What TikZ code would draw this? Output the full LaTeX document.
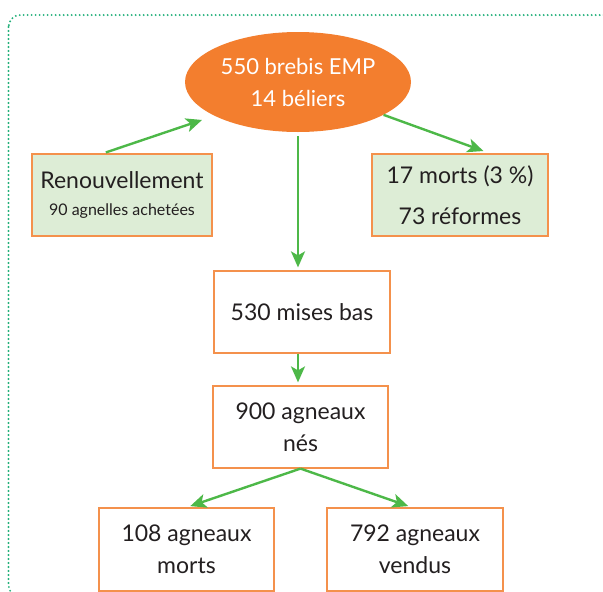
\documentclass[tikz,border=0pt]{standalone}
\usepackage{fontspec}
\setmainfont{Lato}
\usetikzlibrary{shapes.geometric,arrows.meta}
\definecolor{orgfill}{HTML}{F37E2E}
\definecolor{orgline}{HTML}{F4914C}
\definecolor{grarrow}{HTML}{4DB848}
\definecolor{grfill}{HTML}{DDEDD6}
\definecolor{frame}{HTML}{22B07A}
\definecolor{txt}{HTML}{231F20}
\tikzset{
  box/.style={draw=orgline, line width=1.2pt, inner sep=0pt, align=center,
    text=txt, font=\fontsize{23}{32}\selectfont},
  greenbox/.style={box, fill=grfill},
  arr/.style={draw=grarrow, line width=2.4pt,
    -{Stealth[length=16pt,width=14pt,inset=4pt]}},
}
\begin{document}
\begin{tikzpicture}[x=1pt,y=-1pt]
\useasboundingbox (0,0) rectangle (603,592);
\begin{scope}
\clip (0,0) rectangle (603,592);
\draw[frame, line width=2.1pt, dash pattern=on 0pt off 4pt, line cap=round, rounded corners=12pt]
  (8.5,15) rectangle (640,597);
\end{scope}

\node[ellipse, fill=orgfill, minimum width=226pt, minimum height=100pt, inner sep=0pt,
  text=white, align=center, font=\fontsize{22}{32}\selectfont] (top) at (298,82)
  {550 brebis EMP\\14 béliers};

\node[greenbox, minimum width=180pt, minimum height=82pt] (renouv) at (122,195)
  {Renouvellement\\[-5pt]{\fontsize{16}{20}\selectfont 90 agnelles achetées}};
\node[greenbox, minimum width=176pt, minimum height=82pt] (morts) at (460,195)
  {17 morts (3~\%)\\[9pt]73 réformes};
\node[box, minimum width=176pt, minimum height=82pt] (mises) at (302,312)
  {530 mises bas};
\node[box, minimum width=175pt, minimum height=82pt] (nes) at (300.5,427)
  {900 agneaux\\nés};
\node[box, minimum width=175pt, minimum height=83pt] (mortsb) at (186.5,549.5)
  {108 agneaux\\morts};
\node[box, minimum width=176pt, minimum height=83pt] (vendus) at (415,549.5)
  {792 agneaux\\vendus};

\draw[arr, shorten <=3pt, shorten >=13pt] ([xshift=-19pt]renouv.north) -- (top.202.5);
\draw[arr, shorten >=7pt] (top.-21) -- ([xshift=30pt]morts.north);
\draw[arr, shorten <=4pt, shorten >=3pt] (top.south) -- (top.south |- mises.north);
\draw[arr, shorten >=3pt] (top.south |- mises.south) -- (top.south |- nes.north);
\draw[arr, shorten >=4pt] (nes.south) -- (mortsb.north);
\draw[arr, shorten >=4pt] (nes.south) -- ([xshift=-3pt]vendus.north);
\end{tikzpicture}
\end{document}
